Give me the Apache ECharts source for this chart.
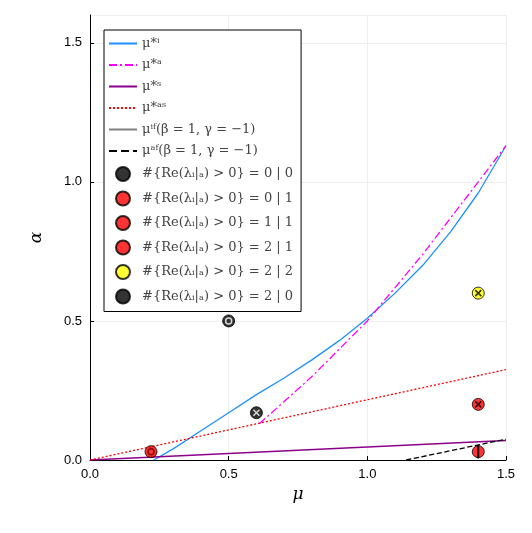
<!DOCTYPE html><html><head><meta charset="utf-8"><script src="https://cdn.jsdelivr.net/npm/echarts@6/dist/echarts.min.js"></script></head><body style="margin:0"><div id="c" style="width:532px;height:533px"></div><script>
const muI=[[0.23,0],[0.3,0.04],[0.4,0.105],[0.5,0.17],[0.6,0.235],[0.7,0.295],[0.8,0.36],[0.9,0.43],[1.0,0.51],[1.1,0.6],[1.2,0.7],[1.3,0.82],[1.4,0.96],[1.5,1.13]];
const muA=[[0.61,0.13],[0.7,0.21],[0.8,0.3],[0.9,0.4],[1.0,0.5],[1.1,0.62],[1.2,0.74],[1.3,0.87],[1.4,1.0],[1.5,1.13]];
const muS=[[0,0],[1.5,0.07]];
const muAS=[[0,0],[1.5,0.325]];
const muIF=[];
const muAF=[[1.14,0],[1.5,0.075]];
const p00=[[0.5,0.5]],p01=[[0.22,0.03]],p11=[[1.4,0.03]],p21=[[1.4,0.2]],p22=[[1.4,0.6]],p20=[[0.6,0.17]];
const lbl=k=>'#{Re(λᵢ|ₐ) > 0} = '+k;
const S=12;
function pt(name,data,col){return {name,type:'scatter',data,symbol:'circle',symbolSize:S,itemStyle:{color:col,borderColor:'#000',borderWidth:1},z:5};}
function deco(data,sym,size,col,fill){return {type:'scatter',data,symbol:sym,symbolSize:size,silent:true,itemStyle:{color:fill||'transparent',borderColor:col,borderWidth:1.5},z:6,legendHoverLink:false};}
const X='path://M0,0L10,10M10,0L0,10';
const ln=(name,data,col,type,w)=>({name,type:'line',data,showSymbol:false,symbol:'none',lineStyle:{color:col,type,width:w||1.3},itemStyle:{color:col}});
const names=['μ*ⁱ','μ*ᵃ','μ*ˢ','μ*ᵃˢ','μⁱᶠ(β = 1, γ = −1)','μᵃᶠ(β = 1, γ = −1)',lbl('0 | 0'),lbl('0 | 1'),lbl('1 | 1'),lbl('2 | 1'),lbl('2 | 2'),lbl('2 | 0')];
const legendData=names.map((n,i)=>i<6?{name:n,itemStyle:{opacity:0}}:{name:n});
const ch=echarts.init(document.getElementById('c'));
ch.setOption({animation:false,
grid:{left:90,right:26,top:15,bottom:73},
xAxis:{type:'value',min:0,max:1.5,interval:0.5,name:'μ',nameLocation:'middle',nameGap:26,nameTextStyle:{fontSize:17,color:'#000',fontFamily:'DejaVu Serif',fontStyle:'italic'},axisLabel:{formatter:v=>v.toFixed(1),color:'#000',fontSize:13},axisLine:{lineStyle:{color:'#000'}},axisTick:{inside:true,length:4,lineStyle:{color:'#000'}},splitLine:{lineStyle:{color:'#eee'}}},
yAxis:{type:'value',min:0,max:1.6,interval:0.5,name:'α',nameLocation:'middle',nameGap:45,nameTextStyle:{fontSize:17,color:'#000',fontFamily:'DejaVu Serif',fontStyle:'italic'},axisLabel:{showMaxLabel:false,formatter:v=>v.toFixed(1),color:'#000',fontSize:13},axisLine:{lineStyle:{color:'#000'}},axisTick:{inside:true,length:4,lineStyle:{color:'#000'}},splitLine:{lineStyle:{color:'#eee'}}},
legend:{orient:'vertical',left:104,top:30,width:212,itemGap:8.5,itemWidth:28,itemHeight:14,padding:[7,8,7,4],borderColor:'#000',borderWidth:1,backgroundColor:'#fff',data:legendData,textStyle:{fontSize:13,color:'#444',fontFamily:'DejaVu Serif'}},
series:[
ln(names[0],muI,'#1e90ff','solid'),
ln(names[1],muA,'#ff00ff',[8,3,2,3]),
ln(names[2],muS,'#8b008b','solid',1.6),
ln(names[3],muAS,'#ff0000',[2,2]),
ln(names[4],muIF,'#808080','solid'),
ln(names[5],muAF,'#000','dashed'),
pt(names[6],p00,'#000'),pt(names[7],p01,'#ff0000'),pt(names[8],p11,'#ff0000'),pt(names[9],p21,'#ff0000'),pt(names[10],p22,'#ffff00'),pt(names[11],p20,'#000'),
deco(p00,'circle',6,'#fff'),deco(p01,'circle',6,'#600'),deco(p11,'rect',[1.5,10],'#000','#000'),deco(p21,X,6,'#000'),deco(p22,X,6,'#000'),deco(p20,X,6,'#fff')
]});
</script></body></html>
